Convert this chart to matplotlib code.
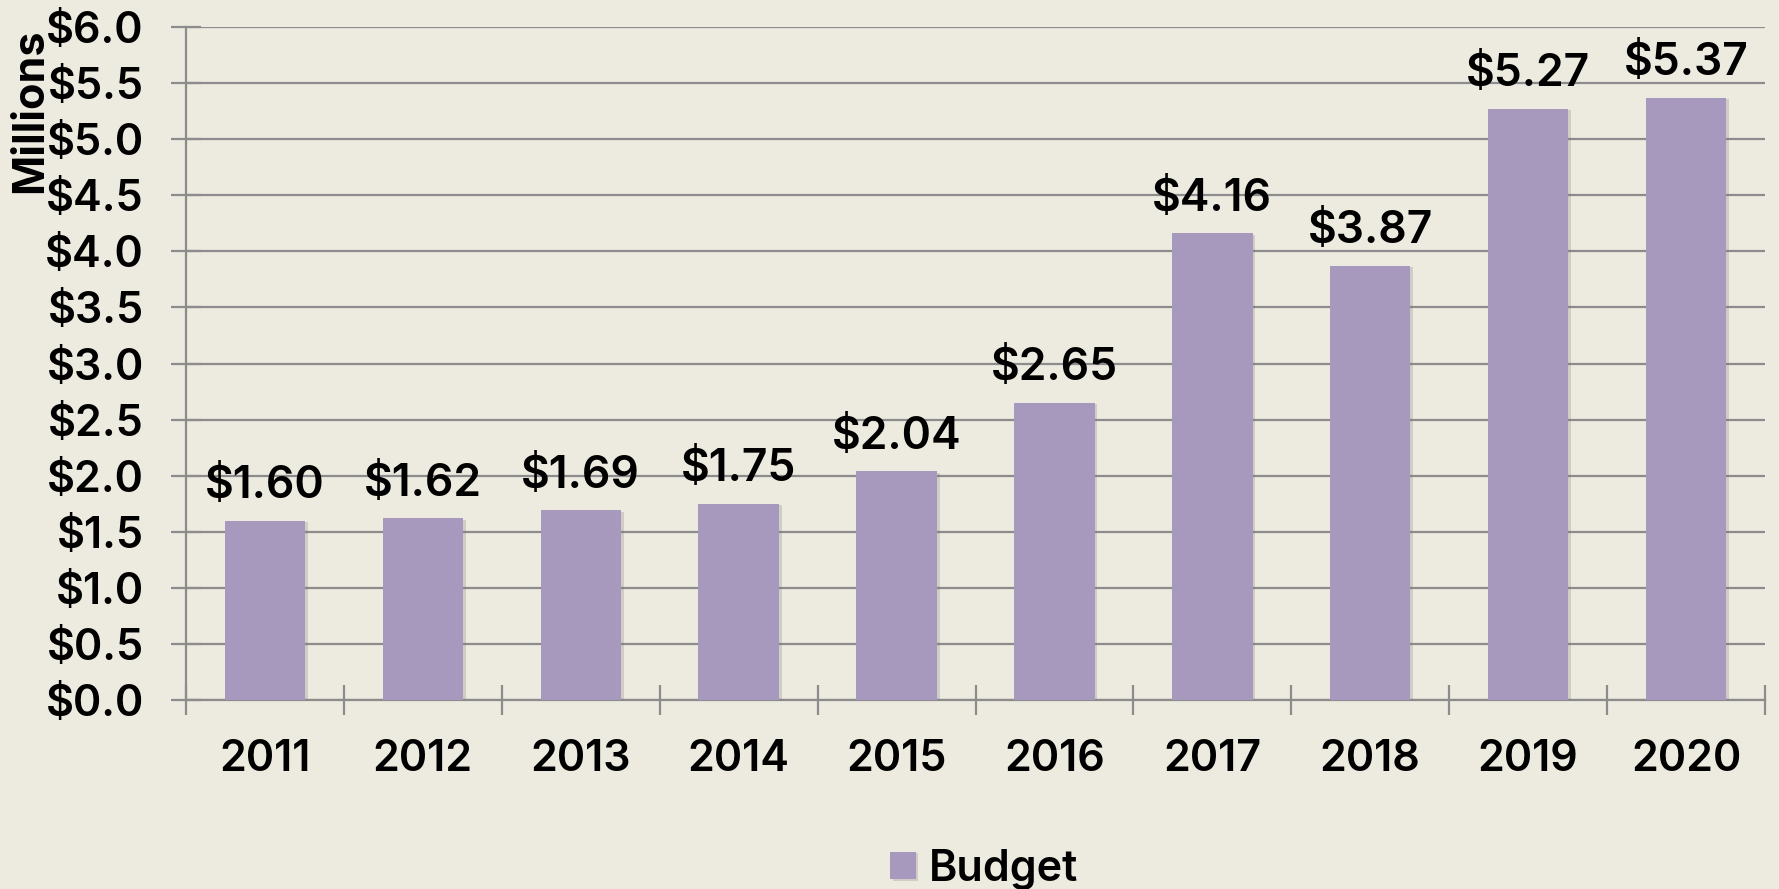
import numpy as np
import matplotlib
matplotlib.use("Agg")
import matplotlib.pyplot as plt
import matplotlib.patheffects as pe
from matplotlib.ticker import FixedLocator

# data
years = ["2011", "2012", "2013", "2014", "2015", "2016", "2017", "2018", "2019", "2020"]
budget = [1.60, 1.62, 1.69, 1.75, 2.04, 2.65, 4.16, 3.87, 5.27, 5.37]
bar_labels = ["$1.60", "$1.62", "$1.69", "$1.75", "$2.04", "$2.65", "$4.16", "$3.87", "$5.27", "$5.37"]
yticks = [0.0, 0.5, 1.0, 1.5, 2.0, 2.5, 3.0, 3.5, 4.0, 4.5, 5.0, 5.5, 6.0]

bg = "#EDEBE0"
bar_color = "#A799BE"
grid_color = "#8C8C8C"
fw = "semibold"
plt.rcParams['font.family'] = ['Inter', 'DejaVu Sans']

fig = plt.figure(figsize=(17.79, 8.89), dpi=100, facecolor=bg)
ax = fig.add_axes([0.1046, 0.2126, 0.9921 - 0.1046, 0.9696 - 0.2126])
ax.set_facecolor(bg)

x = np.arange(len(years))
bars = ax.bar(x, budget, width=0.51, color=bar_color, zorder=3, label="Budget")
for b in bars:
    b.set_path_effects([pe.SimplePatchShadow(offset=(2, -1), shadow_rgbFace="#777777", alpha=0.25), pe.Normal()])

for xi, v, s in zip(x, budget, bar_labels):
    ax.text(xi, v + 0.12, s, ha="center", va="bottom", fontsize=32, fontweight=fw, zorder=4)

ax.set_xlim(-0.5, len(years) - 0.5)
ax.set_ylim(0, 6.0)
ax.set_yticks(yticks)
ax.set_yticklabels(["$%.1f" % v for v in yticks], fontsize=31, fontweight=fw)
ax.grid(axis="y", color=grid_color, linewidth=1.6, zorder=0)

ax.set_xticks(x)
ax.set_xticklabels(years, fontsize=31, fontweight=fw)
ax.xaxis.set_minor_locator(FixedLocator(np.arange(-0.5, len(years), 1.0)))
ax.tick_params(axis="x", which="major", length=0, pad=28)
ax.tick_params(axis="x", which="minor", length=21, width=1.6, color=grid_color, direction="inout")
ax.tick_params(axis="y", which="major", length=21, width=1.6, color=grid_color, direction="inout", pad=20)

for side in ["top", "right"]:
    ax.spines[side].set_visible(False)
for side in ["left", "bottom"]:
    ax.spines[side].set_color(grid_color)
    ax.spines[side].set_linewidth(1.6)

fig.text(0.017, 0.875, "Millions", rotation=90, ha="center", va="center",
         fontsize=31, fontweight="bold")

fig.legend(handles=[bars], labels=["Budget"], loc="center", bbox_to_anchor=(0.553, 0.022),
           frameon=False, prop={"size": 31, "weight": fw}, handlelength=0.6, handleheight=0.6,
           handletextpad=0.3, borderaxespad=0)

fig.savefig("out.png", dpi=100, facecolor=bg)
